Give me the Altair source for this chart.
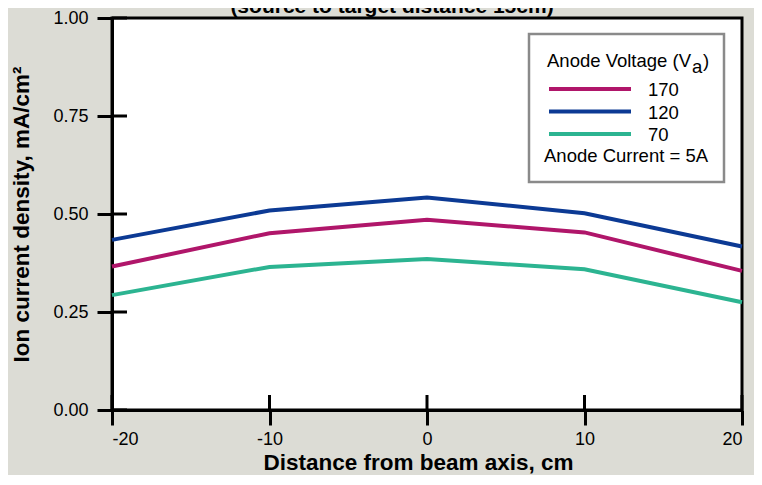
import altair as alt
import pandas as pd

# ---- data ----
distance = [-20, -10, 0, 10, 20]
v170 = [0.366, 0.451, 0.485, 0.453, 0.355]
v120 = [0.434, 0.509, 0.542, 0.502, 0.417]
v70 = [0.293, 0.365, 0.385, 0.359, 0.275]
voltages = ["170", "120", "70"]
colors = ["#b0166a", "#0c3a94", "#2cb491"]
x_ticks = [-20, -10, 0, 10, 20]
y_ticks = [0.0, 0.25, 0.5, 0.75, 1.0]

title_text = "(source to target distance 15cm)"
x_title = "Distance from beam axis, cm"
y_title = "Ion current density, mA/cm\u00b2"
legend_title = "Anode Voltage (V"
legend_note = "Anode Current = 5A"

FONT = "Liberation Sans"
W, H = 630, 392

rows = []
for v, series in zip(voltages, [v170, v120, v70]):
    for d, val in zip(distance, series):
        rows.append({"distance": d, "density": val, "voltage": v})
df = pd.DataFrame(rows)

xscale = alt.Scale(domain=[-20, 20], nice=False, zero=False)
yscale = alt.Scale(domain=[0, 1], nice=False)

lines = alt.Chart(df).mark_line(strokeWidth=4).encode(
    x=alt.X("distance:Q", scale=xscale,
            axis=alt.Axis(values=x_ticks, title=x_title, grid=False,
                          labelExpr="'' + datum.value",
                          titleX=306, titleAlign="center")),
    y=alt.Y("density:Q", scale=yscale,
            axis=alt.Axis(values=y_ticks, format=".2f", title=y_title, grid=False)),
    color=alt.Color("voltage:N", scale=alt.Scale(domain=voltages, range=colors), legend=None),
    detail="voltage:N",
)

xt = alt.Chart(pd.DataFrame({"t": x_ticks})).mark_rule(color="black", strokeWidth=3).encode(
    x=alt.X("t:Q", scale=xscale), y=alt.value(H - 15), y2=alt.value(H))
yt = alt.Chart(pd.DataFrame({"t": y_ticks})).mark_rule(color="black", strokeWidth=3).encode(
    y=alt.Y("t:Q", scale=yscale), x=alt.value(0), x2=alt.value(15))

one = pd.DataFrame({"a": [0]})
layers = [lines, xt, yt]

# title (partly cut off at the top, as in the reference)
layers.append(alt.Chart(one).mark_text(font=FONT, fontSize=21, fontWeight="bold",
                                       align="center", baseline="alphabetic", color="black").encode(
    x=alt.value(280), y=alt.value(-5), text=alt.value(title_text)))

# legend box
layers.append(alt.Chart(one).mark_rect(fill="white", stroke="#8a8a8a", strokeWidth=2.5).encode(
    x=alt.value(417), x2=alt.value(612), y=alt.value(16), y2=alt.value(164)))
layers.append(alt.Chart(one).mark_text(font=FONT, fontSize=18.5, align="left", baseline="alphabetic",
                                       color="black").encode(
    x=alt.value(435), y=alt.value(49), text=alt.value(legend_title)))
layers.append(alt.Chart(one).mark_text(font=FONT, fontSize=18.5, align="left", baseline="alphabetic",
                                       color="black").encode(
    x=alt.value(580), y=alt.value(55), text=alt.value("a")))
layers.append(alt.Chart(one).mark_text(font=FONT, fontSize=18.5, align="left", baseline="alphabetic",
                                       color="black").encode(
    x=alt.value(591), y=alt.value(49), text=alt.value(")")))
for i, (v, c) in enumerate(zip(voltages, colors)):
    yy = 71 + i * 22.5
    layers.append(alt.Chart(one).mark_rule(color=c, strokeWidth=4).encode(
        x=alt.value(437), x2=alt.value(519), y=alt.value(yy)))
    layers.append(alt.Chart(one).mark_text(font=FONT, fontSize=18.5, align="left", baseline="middle",
                                           color="black").encode(
        x=alt.value(536), y=alt.value(yy + 1), text=alt.value(v)))
layers.append(alt.Chart(one).mark_text(font=FONT, fontSize=18.5, align="left", baseline="alphabetic",
                                       color="black").encode(
    x=alt.value(432), y=alt.value(144), text=alt.value(legend_note)))

chart = alt.layer(*layers).properties(
    width=W, height=H,
    background="#dcdcd5",
    padding={"left": 104, "top": 10, "right": 12, "bottom": 65},
    autosize=alt.AutoSizeParams(type="none"),
).configure_view(
    fill="white", stroke="black", strokeWidth=3
).configure_axis(
    domainColor="black", domainWidth=3,
    tickColor="black", tickWidth=3, tickSize=15,
    labelFont=FONT, labelFontSize=18, labelColor="black",
    titleFont=FONT, titleFontSize=22.5, titleFontWeight="bold", titleColor="black",
).configure_axisX(
    labelPadding=5, titlePadding=3,
).configure_axisY(
    labelPadding=9, titlePadding=19,
)

chart.save("out.html", embed_options={"renderer": "svg", "actions": False})
